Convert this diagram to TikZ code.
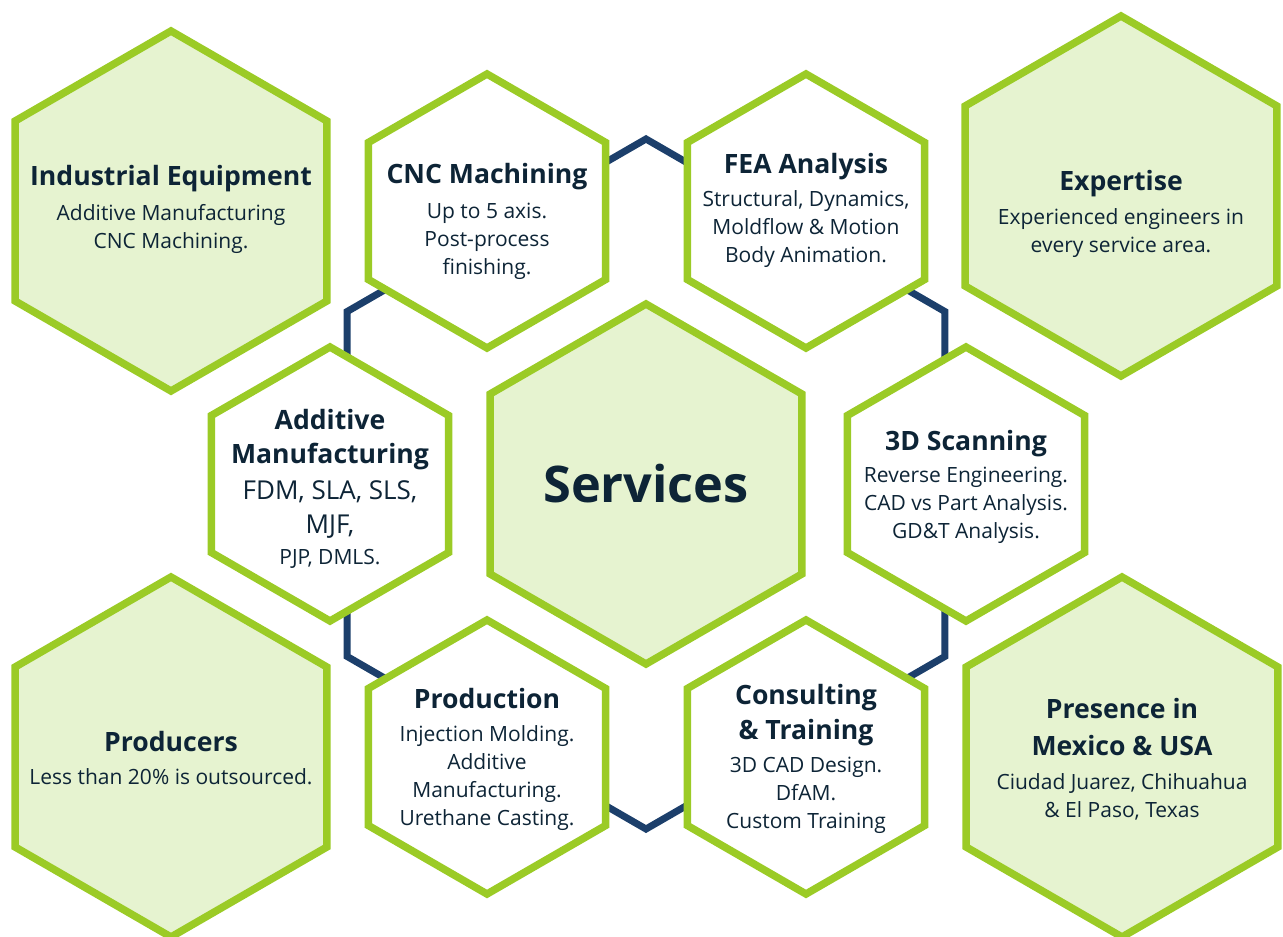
\documentclass[tikz,border=0pt]{standalone}
\usepackage{fontspec}
\setmainfont{Open Sans}
\usepackage{tikz}
\usetikzlibrary{shapes.geometric}
\definecolor{hexgreen}{HTML}{9BCB26}
\definecolor{hexfill}{HTML}{E6F3D0}
\definecolor{ringblue}{HTML}{1C3F6B}
\definecolor{inkdark}{HTML}{0D2436}
\tikzstyle{hexbase} = [regular polygon, regular polygon sides=6, rotate=30,
    inner sep=0pt, outer sep=0pt]
\tikzstyle{bighex} = [hexbase, draw=hexgreen, fill=hexfill, line width=7.5pt,
    minimum size=360pt]
\tikzstyle{smallhex} = [hexbase, draw=hexgreen, fill=white, line width=7.5pt,
    minimum size=274pt]
\tikzstyle{ring} = [hexbase, draw=ringblue, line width=7pt, minimum size=690pt]
\tikzstyle{hextext} = [text=inkdark, align=center,
    font=\fontsize{21}{28}\selectfont]
\newcommand{\hexhead}[1]{{\fontsize{26.6}{34}\selectfont\bfseries #1}}
\newcommand{\hexbig}[1]{{\fontsize{26}{34}\selectfont #1}}

\begin{document}
\begin{tikzpicture}[x=1pt, y=-1pt]
\useasboundingbox (0,0) rectangle (1283,937);
\clip (0,0) rectangle (1283,937);
% navy ring behind everything
\node[ring] (ring) at (646,484) {};
% outer hexagons
\node[bighex] (ind) at (171,211) {};
\node[bighex] (exp) at (1121,196) {};
\node[bighex] (prod) at (171,757) {};
\node[bighex] (pres) at (1122,757) {};
\node[bighex] (svc) at (646,484) {};
% service hexagons
\node[smallhex] (cnc) at (487,211) {};
\node[smallhex] (fea) at (806,211) {};
\node[smallhex] (add) at (330,484) {};
\node[smallhex] (scan) at (966,484) {};
\node[smallhex] (mold) at (487,757) {};
\node[smallhex] (cons) at (806,757) {};
% texts
\node[hextext, yshift=2pt] (ind-t) at (ind) {\hexhead{Industrial Equipment}\\[7pt]
    Additive Manufacturing\\CNC Machining.};
\node[hextext, yshift=-18pt] (exp-t) at (exp) {\hexhead{Expertise}\\[6pt]
    Experienced engineers in\\every service area.};
\node[hextext, yshift=-1pt] (prod-t) at (prod) {\hexhead{Producers}\\[5pt]
    Less than 20\% is outsourced.};
\node[hextext, yshift=-2pt] (pres-t) at (pres) {\hexhead{Presence in}\\[9pt]
    \hexhead{Mexico \& USA}\\[6pt]Ciudad Juarez, Chihuahua\\\& El Paso, Texas};
\node[hextext, font=\fontsize{50.5}{60}\selectfont\bfseries] (svc-t) at (svc) {Services};
\node[hextext, yshift=-10pt] (cnc-t) at (cnc) {\hexhead{CNC Machining}\\[7pt]
    Up to 5 axis.\\Post-process\\finishing.};
\node[hextext, yshift=1pt] (fea-t) at (fea) {\hexhead{FEA Analysis}\\[5pt]
    Structural, Dynamics,\\Moldflow \& Motion\\Body Animation.};
\node[hextext, yshift=-5pt] (add-t) at (add) {\hexhead{Additive}\\[6pt]
    \hexhead{Manufacturing}\\[8pt]\hexbig{FDM, SLA, SLS,}\\[6pt]\hexbig{MJF,}\\[3pt]
    PJP, DMLS.};
\node[hextext, yshift=-3pt] (scan-t) at (scan) {\hexhead{3D Scanning}\\[4pt]
    Reverse Engineering.\\CAD vs Part Analysis.\\GD\&T Analysis.};
\node[hextext, yshift=-2pt] (mold-t) at (mold) {\hexhead{Production}\\[5pt]
    Injection Molding.\\Additive\\Manufacturing.\\Urethane Casting.};
\node[hextext, yshift=-2pt] (cons-t) at (cons) {\hexhead{Consulting}\\[7pt]
    \hexhead{\& Training}\\[5pt]3D CAD Design.\\DfAM.\\Custom Training};
\end{tikzpicture}
\end{document}
